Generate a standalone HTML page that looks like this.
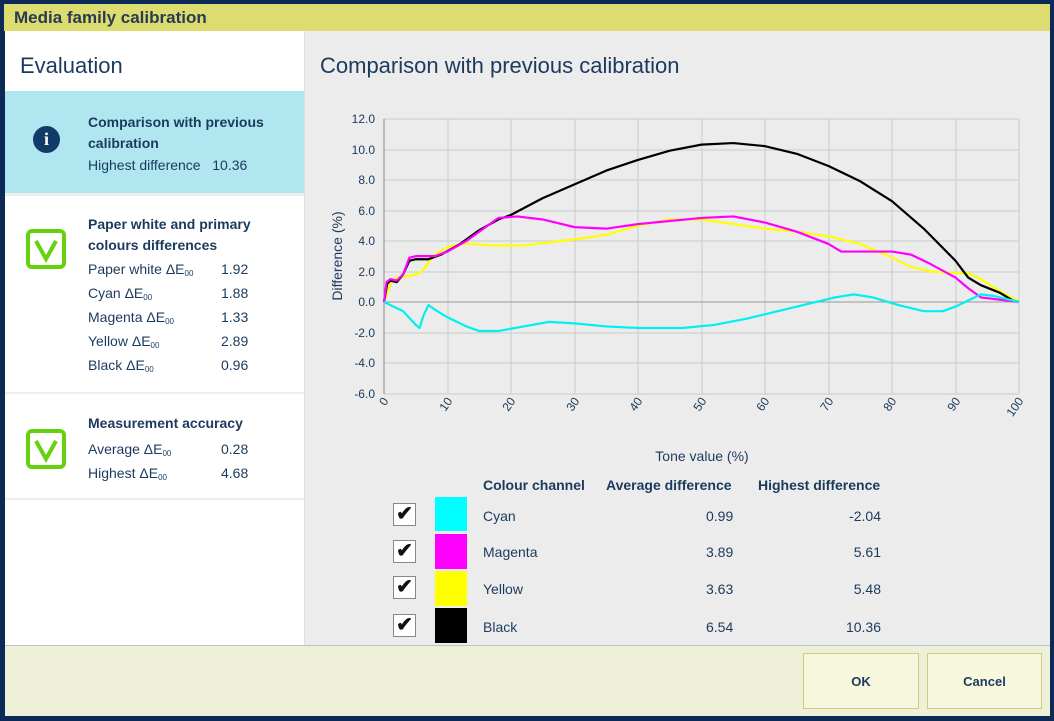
<!DOCTYPE html>
<html><head><meta charset="utf-8"><style>
*{margin:0;padding:0;box-sizing:border-box}
body{width:1054px;height:721px;background:#0b2a55;font-family:"Liberation Sans",sans-serif;color:#1b3a5e;position:relative;overflow:hidden}
.abs{position:absolute}
.title{left:4px;top:4px;width:1046px;height:27px;background:#dcdc70;font-weight:bold;font-size:17px;padding:4px 10px;color:#2a3a50}
.left{left:5px;top:31px;width:300px;height:615px;background:#fff;border-right:1px solid #e0e2e2}
.right{left:305px;top:31px;width:745px;height:615px;background:#ebeceb}
.foot{left:5px;top:645px;width:1045px;height:71px;background:#eef0d8;border-top:1px solid #b8c4cc}
.btn{top:653px;height:56px;background:#f6f7dd;border:1px solid #c9cd86;font-weight:bold;font-size:13px;text-align:center;line-height:56px;color:#1b3a5e}
.b{font-weight:bold;font-size:14px}
.t{font-size:14px}
.chk{width:40px;height:40px;border:4px solid #66d10f;border-radius:6px}
.cb{width:23px;height:23px;border:1px solid #888;background:#fff;font-size:20px;line-height:21px;text-align:center;color:#111;font-weight:bold}
sub{font-size:8px;line-height:0;vertical-align:baseline;position:relative;top:2px}
</style></head><body>
<div class="abs title">Media family calibration</div>
<div class="abs right">
 <div class="abs" style="left:15px;top:22px;font-size:22px">Comparison with previous calibration</div>
</div>
<div class="abs left">
 <div class="abs" style="left:15px;top:22px;font-size:22px">Evaluation</div>
 <div class="abs" style="left:0;top:60px;width:299px;height:102px;background:#b0e6ef"></div>
 <div class="abs" style="left:28px;top:95px;width:27px;height:27px;border-radius:50%;background:#123a66;color:#fff;font-weight:bold;font-family:'Liberation Serif',serif;font-size:18px;text-align:center;line-height:27px">i</div>
 <div class="abs b" style="left:83px;top:81px;line-height:21px">Comparison with previous<br>calibration</div>
 <div class="abs t" style="left:83px;top:126px">Highest difference&nbsp;&nbsp;&nbsp;10.36</div>
 <div class="abs" style="left:0;top:162px;width:299px;height:3px;background:#eee"></div>
 <div class="abs chk" style="left:21px;top:198px"><svg width="32" height="32" style="position:absolute;left:0;top:0"><path d="M6 8 L16 26 L26 8" stroke="#66d10f" stroke-width="4" fill="none"/></svg></div>
 <div class="abs b" style="left:83px;top:183px;line-height:21px">Paper white and primary<br>colours differences</div>
 <div class="abs t" style="left:83px;top:226px;line-height:24px;white-space:nowrap">Paper white ΔE<sub>00</sub><br>Cyan ΔE<sub>00</sub><br>Magenta ΔE<sub>00</sub><br>Yellow ΔE<sub>00</sub><br>Black ΔE<sub>00</sub></div>
 <div class="abs t" style="left:216px;top:226px;line-height:24px">1.92<br>1.88<br>1.33<br>2.89<br>0.96</div>
 <div class="abs" style="left:0;top:361px;width:299px;height:2px;background:#eee"></div>
 <div class="abs chk" style="left:21px;top:398px"><svg width="32" height="32" style="position:absolute;left:0;top:0"><path d="M6 8 L16 26 L26 8" stroke="#66d10f" stroke-width="4" fill="none"/></svg></div>
 <div class="abs b" style="left:83px;top:384px">Measurement accuracy</div>
 <div class="abs t" style="left:83px;top:406px;line-height:24px;white-space:nowrap">Average ΔE<sub>00</sub><br>Highest ΔE<sub>00</sub></div>
 <div class="abs t" style="left:216px;top:406px;line-height:24px">0.28<br>4.68</div>
 <div class="abs" style="left:0;top:467px;width:299px;height:2px;background:#eee"></div>
</div>
<svg class="abs" style="left:0;top:0" width="1054" height="721">
 <g stroke="#c9cbcb" stroke-width="1">
  <line x1="384" y1="119" x2="1019" y2="119"/><line x1="384" y1="150" x2="1019" y2="150"/><line x1="384" y1="180" x2="1019" y2="180"/><line x1="384" y1="211" x2="1019" y2="211"/><line x1="384" y1="241" x2="1019" y2="241"/><line x1="384" y1="272" x2="1019" y2="272"/><line x1="384" y1="333" x2="1019" y2="333"/><line x1="384" y1="363" x2="1019" y2="363"/><line x1="384" y1="394" x2="1019" y2="394"/>
  <line x1="448" y1="119" x2="448" y2="394"/><line x1="511" y1="119" x2="511" y2="394"/><line x1="575" y1="119" x2="575" y2="394"/><line x1="638" y1="119" x2="638" y2="394"/><line x1="702" y1="119" x2="702" y2="394"/><line x1="765" y1="119" x2="765" y2="394"/><line x1="829" y1="119" x2="829" y2="394"/><line x1="892" y1="119" x2="892" y2="394"/><line x1="956" y1="119" x2="956" y2="394"/><line x1="1019" y1="119" x2="1019" y2="394"/>
 </g>
 <line x1="384" y1="302" x2="1019" y2="302" stroke="#999"/>
 <line x1="384" y1="119" x2="384" y2="394" stroke="#888"/>
 <g font-size="12" fill="#1b3a5e" text-anchor="end">
  <text x="375" y="123">12.0</text><text x="375" y="154">10.0</text><text x="375" y="184">8.0</text><text x="375" y="215">6.0</text><text x="375" y="245">4.0</text><text x="375" y="276">2.0</text><text x="375" y="306">0.0</text><text x="375" y="337">-2.0</text><text x="375" y="367">-4.0</text><text x="375" y="398">-6.0</text>
 </g>
 <g font-size="12" fill="#1b3a5e" text-anchor="end">
  <text transform="translate(389,401) rotate(-55)">0</text><text transform="translate(453,401) rotate(-55)">10</text><text transform="translate(516,401) rotate(-55)">20</text><text transform="translate(580,401) rotate(-55)">30</text><text transform="translate(643,401) rotate(-55)">40</text><text transform="translate(707,401) rotate(-55)">50</text><text transform="translate(770,401) rotate(-55)">60</text><text transform="translate(834,401) rotate(-55)">70</text><text transform="translate(897,401) rotate(-55)">80</text><text transform="translate(961,401) rotate(-55)">90</text><text transform="translate(1024,401) rotate(-55)">100</text>
 </g>
 <text transform="translate(342,256) rotate(-90)" font-size="14" fill="#1b3a5e" text-anchor="middle">Difference (%)</text>
 <text x="702" y="461" font-size="14" fill="#1b3a5e" text-anchor="middle">Tone value (%)</text>
 <g transform="translate(384,302) scale(6.35,-15.28)" fill="none" stroke-width="2.2" stroke-linejoin="round">
  <polyline vector-effect="non-scaling-stroke" stroke="#ffff00" points="0,0 1,1.2 2,1.6 4,1.7 5,1.8 6,2 7,2.6 8,3.1 10,3.6 12,3.8 14,3.8 17,3.7 22,3.7 30,4.1 35,4.4 40,5 45,5.4 50,5.4 55,5.1 60,4.8 65,4.6 70,4.3 75,3.8 80,2.9 83,2.3 86,2 90,1.9 92,1.9 94,1.5 97,0.7 100,0"/>
  <polyline vector-effect="non-scaling-stroke" stroke="#000" points="0,0 0.5,1.2 1,1.4 2,1.3 3,1.8 4,2.7 5,2.8 7,2.8 9,3.1 12,3.8 15,4.7 18,5.4 20,5.7 25,6.8 30,7.7 35,8.6 40,9.3 45,9.9 50,10.3 55,10.4 60,10.2 65,9.7 70,8.9 75,7.9 80,6.6 85,4.8 90,2.7 92,1.6 94,1.1 97,0.6 99,0.1 100,0"/>
  <polyline vector-effect="non-scaling-stroke" stroke="#ff00ff" points="0,0 0.4,1.3 1,1.5 2,1.4 3,1.8 4,2.9 5,3 8,3 10,3.3 13,4 16,4.9 18,5.5 21,5.6 25,5.4 30,4.9 35,4.8 40,5.1 45,5.3 50,5.5 55,5.6 60,5.2 65,4.6 70,3.8 72,3.3 80,3.3 83,3.1 86,2.5 90,1.6 92,0.9 94,0.3 96,0.2 100,0"/>
  <polyline vector-effect="non-scaling-stroke" stroke="#00f0f0" points="0,0 3,-0.6 5,-1.5 5.6,-1.7 6.2,-0.9 7,-0.2 8,-0.5 10,-1 13,-1.6 15,-1.9 18,-1.9 22,-1.6 26,-1.3 30,-1.4 35,-1.6 40,-1.7 47,-1.7 52,-1.5 57,-1.1 62,-0.6 67,-0.1 71,0.3 74,0.5 77,0.3 81,-0.2 85,-0.6 88,-0.6 90,-0.3 92,0.1 94,0.5 96,0.4 100,0"/>
 </g>
</svg>
<div class="abs b" style="left:483px;top:477px">Colour channel</div>
<div class="abs b" style="left:606px;top:477px">Average difference</div>
<div class="abs b" style="left:758px;top:477px">Highest difference</div>
<div class="abs cb" style="left:393px;top:503px">✔</div><div class="abs" style="left:435px;top:497px;width:32px;height:34px;background:#00ffff"></div><div class="abs t" style="left:483px;top:508px">Cyan</div><div class="abs t" style="left:706px;top:508px">0.99</div><div class="abs t" style="left:821px;top:508px;width:60px;text-align:right">-2.04</div>
<div class="abs cb" style="left:393px;top:540px">✔</div><div class="abs" style="left:435px;top:534px;width:32px;height:35px;background:#ff00ff"></div><div class="abs t" style="left:483px;top:544px">Magenta</div><div class="abs t" style="left:706px;top:544px">3.89</div><div class="abs t" style="left:821px;top:544px;width:60px;text-align:right">5.61</div>
<div class="abs cb" style="left:393px;top:576px">✔</div><div class="abs" style="left:435px;top:571px;width:32px;height:35px;background:#ffff00"></div><div class="abs t" style="left:483px;top:581px">Yellow</div><div class="abs t" style="left:706px;top:581px">3.63</div><div class="abs t" style="left:821px;top:581px;width:60px;text-align:right">5.48</div>
<div class="abs cb" style="left:393px;top:614px">✔</div><div class="abs" style="left:435px;top:608px;width:32px;height:35px;background:#000"></div><div class="abs t" style="left:483px;top:619px">Black</div><div class="abs t" style="left:706px;top:619px">6.54</div><div class="abs t" style="left:821px;top:619px;width:60px;text-align:right">10.36</div>
<div class="abs foot"></div>
<div class="abs btn" style="left:803px;width:116px">OK</div>
<div class="abs btn" style="left:927px;width:115px">Cancel</div>
</body></html>
